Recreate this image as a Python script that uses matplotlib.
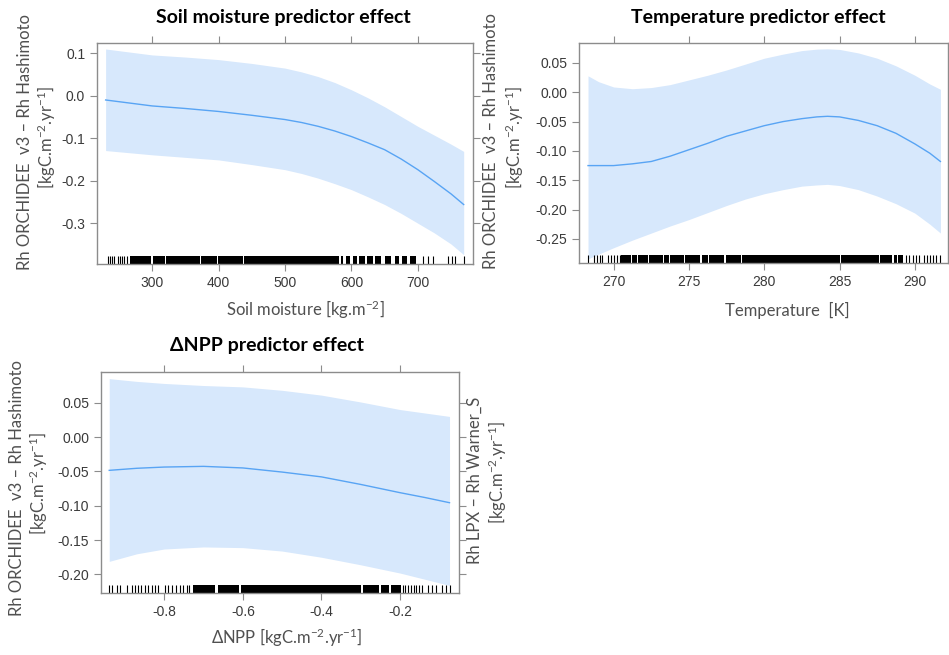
## Effect plots (GAM-style predictor effects) - three panels
import numpy as np
import matplotlib
matplotlib.use("Agg")
import matplotlib.pyplot as plt
from matplotlib.transforms import blended_transform_factory

plt.rcParams['mathtext.fontset'] = 'custom'
plt.rcParams['mathtext.rm'] = 'Lato'
plt.rcParams['mathtext.it'] = 'Lato:italic'
plt.rcParams['mathtext.bf'] = 'Lato:bold'

## -----------------------
## Soil moisture panel
soil_x = [230, 300, 350, 400, 450, 500, 525, 550, 575, 600, 625, 650, 675, 700, 725, 750, 769]
soil_fit = [-0.010, -0.024, -0.030, -0.037, -0.046, -0.056, -0.063, -0.072, -0.083, -0.096,
            -0.111, -0.127, -0.149, -0.174, -0.202, -0.231, -0.256]
soil_hi = [0.110, 0.096, 0.091, 0.085, 0.076, 0.065, 0.056, 0.045, 0.031, 0.014,
           -0.005, -0.026, -0.049, -0.072, -0.093, -0.114, -0.131]
soil_lo = [-0.129, -0.139, -0.145, -0.151, -0.162, -0.174, -0.183, -0.194, -0.207, -0.221,
           -0.238, -0.256, -0.277, -0.300, -0.323, -0.349, -0.374]
soil_rug_single = [233, 236, 239, 242, 248, 251, 255, 258, 262, 708, 715, 723, 746, 751, 756, 769]
soil_rug_dense = [(266, 299), (301, 319), (321, 372), (374, 397), (399, 437), (439, 582),
                  (584, 588), (592, 598), (602, 608), (612, 620), (624, 632), (636, 645),
                  (650, 660), (666, 672), (676, 684), (688, 697)]

## -----------------------
## Temperature panel
temp_x = [268.3, 269.0, 270.0, 271.25, 272.5, 273.75, 275.0, 276.25, 277.5, 278.75, 280.0,
          281.25, 282.5, 283.5, 284.2, 285.0, 286.25, 287.5, 288.75, 290.0, 291.0, 291.7]
temp_fit = [-0.125, -0.125, -0.125, -0.122, -0.118, -0.109, -0.098, -0.087, -0.075, -0.066, -0.057,
            -0.050, -0.045, -0.042, -0.041, -0.042, -0.048, -0.057, -0.070, -0.088, -0.104, -0.118]
temp_hi = [0.028, 0.018, 0.009, 0.006, 0.008, 0.013, 0.021, 0.029, 0.038, 0.048, 0.058,
           0.065, 0.071, 0.0735, 0.074, 0.073, 0.067, 0.058, 0.045, 0.029, 0.014, 0.005]
temp_lo = [-0.284, -0.276, -0.265, -0.252, -0.240, -0.228, -0.217, -0.205, -0.193, -0.182, -0.173,
           -0.166, -0.160, -0.158, -0.157, -0.159, -0.166, -0.177, -0.190, -0.206, -0.225, -0.240]
temp_rug_single = [268.3, 268.7, 268.9, 269.1, 269.2, 269.6, 269.8, 270.0, 270.2, 270.4,
                   289.4, 289.6, 289.9, 290.1, 290.3, 290.6, 290.8, 291.0, 291.2, 291.4, 291.7]
temp_rug_dense = [(270.5, 271.15), (271.25, 271.55), (271.65, 272.25), (272.35, 273.25),
                  (273.35, 273.65), (273.75, 274.65), (274.75, 275.75), (275.85, 276.25),
                  (276.35, 277.35), (277.45, 278.45), (278.55, 285.0), (285.12, 287.6),
                  (287.7, 288.5), (288.6, 288.8), (288.9, 289.2)]

## -----------------------
## Delta NPP panel
npp_x = [-0.940, -0.870, -0.800, -0.700, -0.600, -0.500, -0.400, -0.300, -0.200, -0.137, -0.074]
npp_fit = [-0.0485, -0.0455, -0.0437, -0.0427, -0.045, -0.051, -0.058, -0.069, -0.081, -0.088, -0.0956]
npp_hi = [0.085, 0.081, 0.078, 0.075, 0.073, 0.068, 0.061, 0.051, 0.040, 0.035, 0.030]
npp_lo = [-0.181, -0.170, -0.163, -0.160, -0.161, -0.166, -0.175, -0.186, -0.198, -0.207, -0.216]
npp_rug_single = [-0.940, -0.934, -0.921, -0.913, -0.896, -0.883, -0.875, -0.866, -0.858,
                  -0.849, -0.841, -0.832, -0.824, -0.815, -0.798, -0.790, -0.781, -0.770,
                  -0.760, -0.752, -0.741, -0.736, -0.193, -0.186, -0.179, -0.173, -0.165,
                  -0.159, -0.152, -0.145, -0.128, -0.118, -0.109, -0.092, -0.084, -0.074]
npp_rug_dense = [(-0.726, -0.670), (-0.664, -0.610), (-0.604, -0.300), (-0.293, -0.254),
                 (-0.249, -0.228), (-0.224, -0.198)]

## Colours
band_col = '#d7e8fc'
line_col = '#58a4f4'
frame_col = '#8c8c8c'
tick_txt = '#3a3a3a'
lab_col = '#505050'

fig = plt.figure(figsize=(9.49, 6.55), dpi=100)

def effect_panel(rect, xs, fit, hi, lo, rug1, rugd, xlim, ylim, xticks, yticks, yfmt):
    ax = fig.add_axes(rect)
    ax.fill_between(xs, lo, hi, color=band_col, lw=0)
    ax.plot(xs, fit, color=line_col, lw=1.0)
    tr = blended_transform_factory(ax.transData, ax.transAxes)
    ax.vlines(rug1, 0, 0.036, transform=tr, color='black', lw=0.8)
    for a, b in rugd:
        ax.axvspan(a, b, ymin=0, ymax=0.036, color='black', lw=0)
    ax.set_xlim(xlim)
    ax.set_ylim(ylim)
    ax.set_xticks(xticks)
    ax.set_yticks(yticks)
    ax.set_yticklabels([yfmt.format(v) for v in yticks])
    ax.tick_params(axis='both', which='both', direction='out', length=5, width=0.8,
                   color=frame_col, labelcolor=tick_txt, labelsize=10,
                   top=True, right=True, labeltop=False, labelright=False)
    for lab in ax.get_xticklabels() + ax.get_yticklabels():
        lab.set_fontfamily('Liberation Sans')
    for s in ax.spines.values():
        s.set_color(frame_col)
        s.set_linewidth(1.0)
    return ax

ax1 = effect_panel([0.1022, 0.5969, 0.3962, 0.3374], soil_x, soil_fit, soil_hi, soil_lo,
                   soil_rug_single, soil_rug_dense, (217, 783), (-0.396, 0.124),
                   [300, 400, 500, 600, 700], [0.1, 0.0, -0.1, -0.2, -0.3], '{:.1f}')
ax2 = effect_panel([0.6101, 0.5985, 0.3888, 0.3359], temp_x, temp_fit, temp_hi, temp_lo,
                   temp_rug_single, temp_rug_dense, (267.7, 292.2), (-0.291, 0.084),
                   [270, 275, 280, 285, 290], [0.05, 0.0, -0.05, -0.1, -0.15, -0.2, -0.25], '{:.2f}')
ax3 = effect_panel([0.1064, 0.0947, 0.3772, 0.3374], npp_x, npp_fit, npp_hi, npp_lo,
                   npp_rug_single, npp_rug_dense, (-0.961, -0.050), (-0.227, 0.0947),
                   [-0.8, -0.6, -0.4, -0.2], [0.05, 0.0, -0.05, -0.1, -0.15, -0.2], '{:.2f}')
ax3.set_xticklabels(['-0.8', '-0.6', '-0.4', '-0.2'])
for lab in ax3.get_xticklabels():
    lab.set_fontfamily('Liberation Sans')

## Text (pixel positions -> figure fractions)
W, H = 949.0, 655.0
def ftext(x, y, s, **kw):
    fig.text(x / W, 1 - y / H, s, ha='center', va='center', family='Lato', **kw)

ylab1 = 'Rh ORCHIDEE  v3 \u2013 Rh Hashimoto'
ylab2 = '[kgC.m$^{-2}$.yr$^{-1}$]'

ftext(283, 18, 'Soil moisture predictor effect', fontsize=14, fontweight='bold', color='black')
ftext(758, 17, 'Temperature predictor effect', fontsize=14, fontweight='bold', color='black')
ftext(267, 345, '\u0394NPP predictor effect', fontsize=14, fontweight='bold', color='black')

ftext(305, 310, 'Soil moisture [kg.m$^{-2}$]', fontsize=12, color=lab_col)
ftext(787, 310, 'Temperature  [K]', fontsize=12, color=lab_col)
ftext(287, 638, '\u0394NPP [kgC.m$^{-2}$.yr$^{-1}$]', fontsize=12, color=lab_col)

ftext(25, 142, ylab1, fontsize=12, color=lab_col, rotation=90)
ftext(47, 137, ylab2, fontsize=12, color=lab_col, rotation=90)
ftext(491, 141, ylab1, fontsize=12, color=lab_col, rotation=90)
ftext(515, 137, ylab2, fontsize=12, color=lab_col, rotation=90)
ftext(17, 488, ylab1, fontsize=12, color=lab_col, rotation=90)
ftext(39, 483, ylab2, fontsize=12, color=lab_col, rotation=90)
ftext(475, 480, 'Rh LPX \u2013 Rh Warner_S', fontsize=12, color=lab_col, rotation=90)
ftext(498, 472, ylab2, fontsize=12, color=lab_col, rotation=90)

fig.savefig('out.png', dpi=100)
